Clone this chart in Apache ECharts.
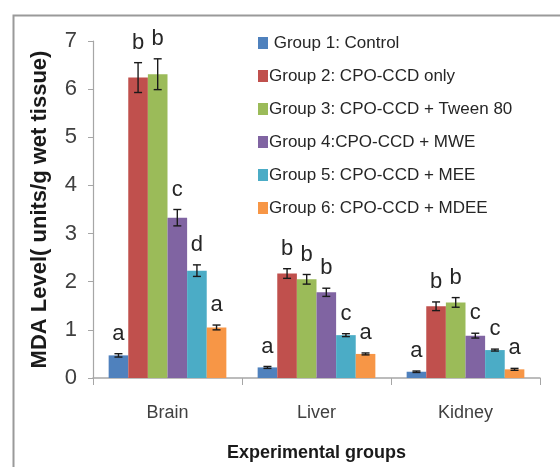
<!DOCTYPE html>
<html>
<head>
<meta charset="utf-8">
<script src="https://cdn.jsdelivr.net/npm/echarts@6/dist/echarts.min.js"></script>
<style>
  html, body { margin: 0; padding: 0; background: #fff; }
  #chart { width: 560px; height: 467px; }
</style>
</head>
<body>
<div id="chart"></div>
<script>
// tissues on the x axis
const categories = ['Brain', 'Liver', 'Kidney'];
const groupNames = [
  'Group 1: Control',
  'Group 2: CPO-CCD only',
  'Group 3: CPO-CCD + Tween 80',
  'Group 4:CPO-CCD + MWE',
  'Group 5: CPO-CCD + MEE',
  'Group 6: CPO-CCD + MDEE'
];
const colors = ['#4f81bd', '#c0504d', '#9bbb59', '#8064a2', '#4bacc6', '#f79646'];

// MDA means per group (Brain, Liver, Kidney)
const group1 = [0.47, 0.22, 0.13];
const group2 = [6.24, 2.17, 1.49];
const group3 = [6.31, 2.05, 1.57];
const group4 = [3.33, 1.78, 0.88];
const group5 = [2.23, 0.89, 0.58];
const group6 = [1.05, 0.50, 0.18];

// error bars
const err1 = [0.035, 0.02, 0.015];
const err2 = [0.31, 0.10, 0.09];
const err3 = [0.32, 0.10, 0.10];
const err4 = [0.17, 0.085, 0.05];
const err5 = [0.12, 0.03, 0.02];
const err6 = [0.05, 0.02, 0.02];

// significance letters
const letters1 = ['a', 'a', 'a'];
const letters2 = ['b', 'b', 'b'];
const letters3 = ['b', 'b', 'b'];
const letters4 = ['c', 'b', 'c'];
const letters5 = ['d', 'c', 'c'];
const letters6 = ['a', 'a', 'a'];

const yTicks = [0, 1, 2, 3, 4, 5, 6, 7];

const means = [group1, group2, group3, group4, group5, group6];
const errs = [err1, err2, err3, err4, err5, err6];
const letters = [letters1, letters2, letters3, letters4, letters5, letters6];

const catGap = 0.21;
const nGroups = means.length;

const barSeries = means.map((vals, g) => ({
  name: groupNames[g],
  type: 'bar',
  barGap: 0,
  barCategoryGap: (catGap * 100) + '%',
  itemStyle: { color: colors[g] },
  data: vals
}));

const errSeries = means.map((vals, g) => ({
  type: 'custom',
  z: 5,
  data: vals.map((v, i) => [i, v, errs[g][i], letters[g][i]]),
  renderItem: function (params, api) {
    const ci = api.value(0);
    const v = api.value(1);
    const e = api.value(2);
    const band = api.size([1, 0])[0];
    const barW = band * (1 - catGap) / nGroups;
    const cx = api.coord([ci, 0])[0] - band * (1 - catGap) / 2 + barW * (g + 0.5);
    const hi = api.coord([ci, v + e])[1];
    const lo = api.coord([ci, v - e])[1];
    const cap = 4;
    const style = { stroke: '#1a1a1a', lineWidth: 1.4 };
    return {
      type: 'group',
      children: [
        { type: 'line', shape: { x1: cx, y1: hi, x2: cx, y2: lo }, style: style },
        { type: 'line', shape: { x1: cx - cap, y1: hi, x2: cx + cap, y2: hi }, style: style },
        { type: 'line', shape: { x1: cx - cap, y1: lo, x2: cx + cap, y2: lo }, style: style },
        {
          type: 'text',
          x: cx, y: hi - 20,
          style: {
            text: api.value(3),
            fill: '#262626',
            font: '22px "Liberation Sans", Arial, sans-serif',
            align: 'center',
            verticalAlign: 'middle'
          }
        }
      ]
    };
  }
}));

const chart = echarts.init(document.getElementById('chart'));
chart.setOption({
  animation: false,
  textStyle: { fontFamily: '"Liberation Sans", Arial, sans-serif' },
  graphic: [{
    type: 'rect',
    left: 11, top: 13,
    shape: { width: 600, height: 500 },
    style: { fill: 'none', stroke: '#9a9a9a', lineWidth: 2 },
    z: -1
  }],
  legend: {
    orient: 'vertical',
    left: 253,
    top: 28,
    data: groupNames,
    itemWidth: 10,
    itemHeight: 12,
    itemGap: 13,
    icon: 'rect',
    formatter: function (name) { return name === groupNames[0] ? ' ' + name : name; },
    textStyle: { fontSize: 17, color: '#262626', lineHeight: 20, padding: [0, 0, 0, -4] }
  },
  grid: { left: 93, right: 20, top: 41, bottom: 84 },
  xAxis: {
    type: 'category',
    data: categories,
    name: 'Experimental groups',
    nameLocation: 'middle',
    nameGap: 66,
    nameTextStyle: { fontSize: 18, fontWeight: 'bold', color: '#1a1a1a' },
    axisLine: { lineStyle: { color: '#a6a6a6', width: 1.5 } },
    axisTick: { show: true, length: 7, lineStyle: { color: '#a6a6a6' } },
    axisLabel: { fontSize: 18, color: '#404040', margin: 26 }
  },
  yAxis: {
    type: 'value',
    min: yTicks[0],
    max: yTicks[yTicks.length - 1],
    interval: 1,
    name: 'MDA Level( units/g wet tissue)',
    nameLocation: 'middle',
    nameGap: 42,
    nameTextStyle: { fontSize: 22, fontWeight: 'bold', color: '#1a1a1a' },
    splitLine: { show: false },
    axisLine: { show: true, lineStyle: { color: '#a6a6a6', width: 1.2 } },
    axisTick: { show: true, length: 5, lineStyle: { color: '#a6a6a6' } },
    axisLabel: { fontSize: 22, color: '#404040', margin: 16 }
  },
  series: barSeries.concat(errSeries)
});
</script>
</body>
</html>
